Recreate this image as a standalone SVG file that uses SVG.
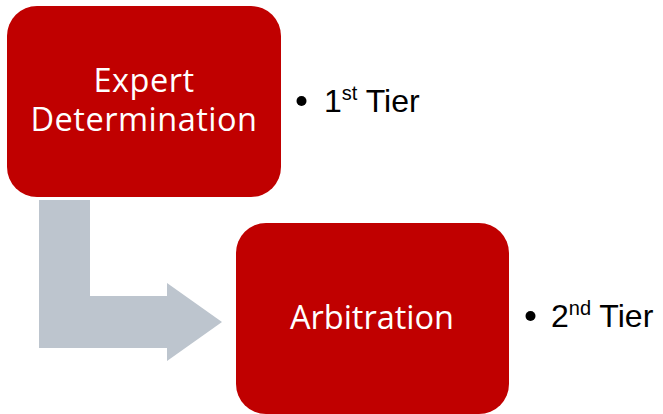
<svg xmlns="http://www.w3.org/2000/svg" width="663" height="414" viewBox="0 0 663 414">
<style>
.box{fill:#C00000}
.lbl{font-family:"Open Sans","Noto Sans",sans-serif;font-size:32.5px;fill:#fff;text-anchor:middle}
.tier{font-family:"Liberation Sans",Arial,sans-serif;font-size:32px;fill:#000}
.sup{font-size:20px}
</style>
<rect width="663" height="414" fill="#fff"/>
<g id="connectors">
<path d="M39,200 H90 V296 H167 V283 L222,322 L167,361 V348 H39 Z" fill="#BDC5CE"/>
</g>
<g id="expert">
<rect class="box" x="7" y="6" width="274" height="191" rx="30"/>
<text class="lbl" x="144" y="91.5" letter-spacing="0.5">Expert</text>
<text class="lbl" x="144" y="130.5" letter-spacing="0.5">Determination</text>
</g>
<g id="arbitration">
<rect class="box" x="236" y="223" width="273" height="191" rx="30"/>
<text class="lbl" x="372" y="328.5">Arbitration</text>
</g>
<g id="tier1">
<circle cx="301.5" cy="101" r="5"/>
<text class="tier" x="324" y="111.5">1<tspan class="sup" dy="-12">st</tspan><tspan dy="12"> Tier</tspan></text>
</g>
<g id="tier2">
<circle cx="530.5" cy="316" r="5"/>
<text class="tier" x="551" y="326.5">2<tspan class="sup" dy="-12">nd</tspan><tspan dy="12"> Tier</tspan></text>
</g>
</svg>
